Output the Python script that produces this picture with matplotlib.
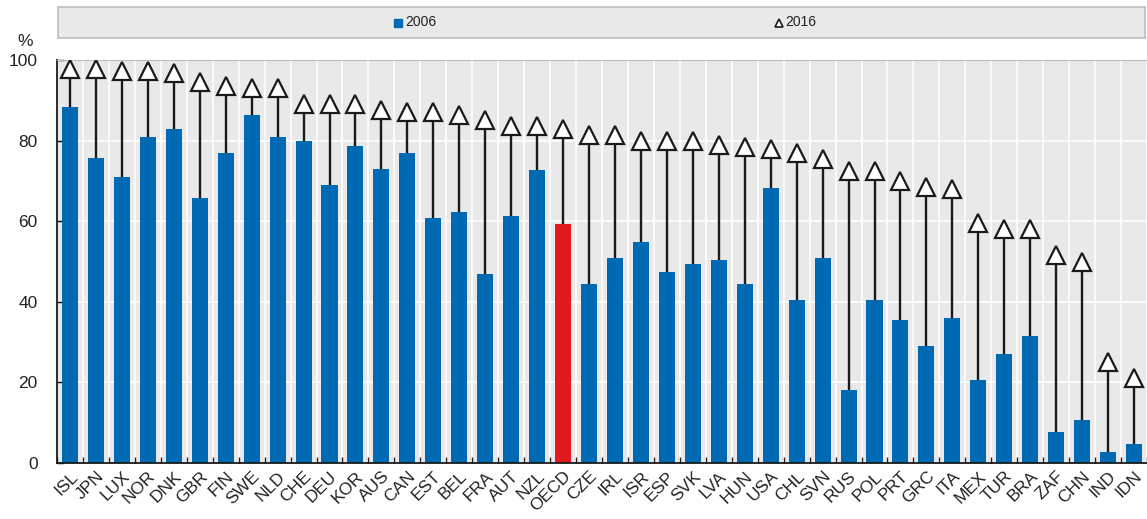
import matplotlib.pyplot as plt
import numpy as np

plt.rcParams['font.family'] = ['Liberation Sans', 'DejaVu Sans']

countries = ["ISL", "JPN", "LUX", "NOR", "DNK", "GBR", "FIN", "SWE", "NLD", "CHE",
             "DEU", "KOR", "AUS", "CAN", "EST", "BEL", "FRA", "AUT", "NZL", "OECD",
             "CZE", "IRL", "ISR", "ESP", "SVK", "LVA", "HUN", "USA", "CHL", "SVN",
             "RUS", "POL", "PRT", "GRC", "ITA", "MEX", "TUR", "BRA", "ZAF", "CHN",
             "IND", "IDN"]
v2006 = [88.3, 75.6, 71.0, 81.0, 82.8, 65.8, 77.0, 86.3, 81.0, 80.0,
         69.0, 78.6, 73.0, 77.0, 60.8, 62.3, 47.0, 61.3, 72.6, 59.3,
         44.4, 50.9, 54.8, 47.4, 49.4, 50.4, 44.4, 68.2, 40.4, 50.9,
         18.1, 40.4, 35.5, 29.0, 36.0, 20.6, 27.0, 31.5, 7.7, 10.7,
         2.7, 4.7]
v2016 = [97.8, 97.8, 97.3, 97.3, 96.8, 94.5, 93.5, 93.0, 93.0, 89.0,
         89.0, 89.0, 87.5, 87.0, 87.0, 86.3, 85.0, 83.5, 83.5, 83.0,
         81.5, 81.5, 80.0, 80.0, 80.0, 79.0, 78.5, 78.0, 77.0, 75.5,
         72.5, 72.5, 70.0, 68.5, 68.0, 59.5, 58.0, 58.0, 51.5, 50.0,
         25.0, 21.0]

blue = "#0069b4"
red = "#e0191f"
bg = "#e9e9e9"

x = np.arange(len(countries))
colors = [red if c == "OECD" else blue for c in countries]

fig = plt.figure(figsize=(11.47, 5.19), dpi=100)
ax = fig.add_axes([57 / 1147, 1 - 463 / 519, 1 - 57 / 1147, (463 - 60) / 519])
ax.set_facecolor(bg)

# grid: white lines between categories and at y steps
for b in np.arange(-0.5, len(countries), 1.0):
    ax.axvline(b, color="white", lw=1.2, zorder=0)
for yv in [20, 40, 60, 80]:
    ax.axhline(yv, color="white", lw=1.2, zorder=0)

ax.bar(x, v2006, width=0.62, color=colors, zorder=2)
ax.vlines(x, v2006, v2016, color="#1a1a1a", lw=1.7, zorder=3)
ax.plot(x, v2016, linestyle="none", marker="^", markersize=12.5,
        markerfacecolor="white", markeredgecolor="#1a1a1a", markeredgewidth=1.6, zorder=4)

ax.set_xlim(-0.5, len(countries) - 0.55)
ax.set_ylim(0, 100)
ax.set_yticks([0, 20, 40, 60, 80, 100])
ax.set_xticks(np.arange(-0.5, len(countries), 1.0), minor=False)
ax.set_xticklabels([])
ax.set_xticks(x, minor=True)
ax.set_xticklabels(countries, minor=True, rotation=45, ha="right",
                   rotation_mode="anchor", fontsize=12.5, color="#222222")
ax.tick_params(axis="x", which="minor", length=0, pad=4)
ax.tick_params(axis="x", which="major", direction="in", length=4, width=1, color="#222222")
ax.tick_params(axis="y", direction="in", length=5, width=1, labelsize=12.5,
               labelcolor="#222222", pad=14)

for s in ["left", "bottom"]:
    ax.spines[s].set_color("#1a1a1a")
    ax.spines[s].set_linewidth(1.3)
ax.spines["top"].set_color("#bdbdbd")
ax.spines["right"].set_visible(False)

fig.text(25 / 1147, 1 - 42 / 519, "%", fontsize=12.5, color="#222222",
         ha="center", va="center")

# legend strip
lax = fig.add_axes([58 / 1147, 1 - 38 / 519, 1087 / 1147, 31 / 519])
lax.set_facecolor(bg)
lax.set_xlim(0, 1)
lax.set_ylim(0, 1)
lax.set_xticks([])
lax.set_yticks([])
for s in lax.spines.values():
    s.set_color("#bdbdbd")
    s.set_linewidth(1.2)
lax.plot([0.3125], [0.5], marker="s", markersize=6, color=blue, linestyle="none")
lax.text(0.319, 0.5, "2006", fontsize=10, va="center", ha="left", color="#222222")
lax.plot([0.6635], [0.5], marker="^", markersize=6, markerfacecolor="white",
         markeredgecolor="#1a1a1a", markeredgewidth=1.2, linestyle="none")
lax.text(0.669, 0.5, "2016", fontsize=10, va="center", ha="left", color="#222222")

plt.savefig("out.png", dpi=100)
